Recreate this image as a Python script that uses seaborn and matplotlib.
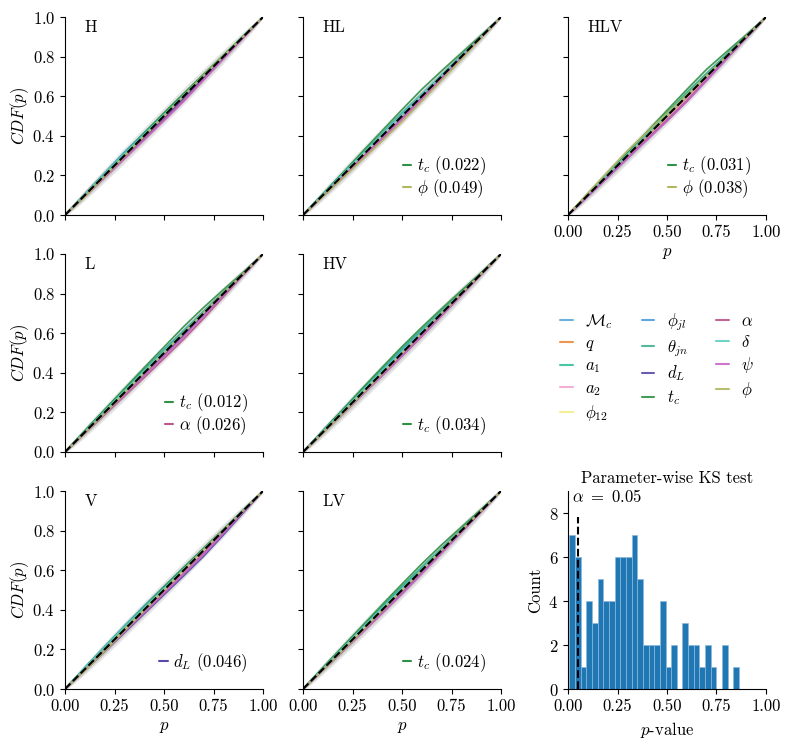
import numpy as np
import pandas as pd
import matplotlib
matplotlib.use("Agg")
import matplotlib.pyplot as plt
from matplotlib.lines import Line2D
import seaborn as sns

sns.set_style("ticks")
plt.rcParams["font.family"] = ["cmr10", "DejaVu Serif"]
plt.rcParams["mathtext.fontset"] = "cm"
plt.rcParams["axes.formatter.use_mathtext"] = True
plt.rcParams["axes.unicode_minus"] = False
plt.rcParams["font.size"] = 12
plt.rcParams["axes.labelsize"] = 12
plt.rcParams["xtick.labelsize"] = 12
plt.rcParams["ytick.labelsize"] = 12
plt.rcParams["legend.fontsize"] = 12
plt.rcParams["axes.edgecolor"] = "black"
plt.rcParams["xtick.color"] = "black"
plt.rcParams["ytick.color"] = "black"
plt.rcParams["axes.labelcolor"] = "black"
plt.rcParams["text.color"] = "black"

# parameters and legend labels
params = ["Mc", "q", "a1", "a2", "phi12", "phi_jl", "theta_jn",
          "d_L", "t_c", "alpha", "delta", "psi", "phi"]
labels = [r"$\mathcal{M}_c$", r"$q$", r"$a_1$", r"$a_2$", r"$\phi_{12}$",
          r"$\phi_{jl}$", r"$\theta_{jn}$", r"$d_L$", r"$t_c$",
          r"$\alpha$", r"$\delta$", r"$\psi$", r"$\phi$"]
colors = ["#5aa9dc", "#f0883a", "#33c29a", "#f2a7cc", "#f5ee86",
          "#4a9fd8", "#3fb38f", "#5a4aa6", "#2f9146", "#b8588a",
          "#62cfc4", "#c967c9", "#b2b65e"]

# p grid where the CDFs were read
p_read = [0.1, 0.2, 0.3, 0.4, 0.5, 0.6, 0.7, 0.8, 0.9]

# CDF(p) - p, in units of 1e-3, one row per parameter (same order as params)
dev_H = [
    [5, 10, 15, 12, 8, 6, 4, 3, 2],
    [8, 12, 10, 6, 4, 2, 0, -2, -1],
    [4, 9, 14, 16, 12, 10, 8, 5, 3],
    [-3, -6, -8, -10, -8, -6, -5, -3, -2],
    [-6, -4, 2, 5, 7, 9, 10, 6, 3],
    [6, 12, 18, 15, 10, 8, 6, 5, 2],
    [3, 8, 12, 14, 10, 12, 9, 6, 3],
    [-4, -8, -10, -12, -14, -10, -8, -6, -3],
    [2, 6, 10, 13, 16, 14, 10, 6, 2],
    [-5, -10, -14, -18, -20, -22, -16, -10, -4],
    [5, 8, 10, 8, 6, 5, 3, 2, 1],
    [-6, -12, -16, -20, -24, -26, -18, -12, -5],
    [-8, -6, -4, -2, 0, 3, 5, 4, 2],
]
dev_HL = [
    [4, 8, 10, 12, 10, 8, 6, 4, 2],
    [2, 4, 6, 4, 2, 0, -2, -2, -1],
    [6, 10, 12, 14, 16, 12, 8, 5, 2],
    [-4, -6, -8, -6, -4, -6, -5, -3, -2],
    [-2, 0, 4, 6, 8, 10, 8, 6, 3],
    [3, 6, 8, 10, 12, 10, 8, 6, 3],
    [5, 8, 12, 10, 8, 6, 4, 3, 2],
    [-6, -10, -12, -14, -12, -10, -8, -4, -2],
    [6, 12, 20, 26, 32, 35, 28, 18, 8],
    [-4, -8, -10, -12, -14, -12, -8, -6, -3],
    [4, 6, 8, 8, 6, 6, 4, 3, 1],
    [-5, -8, -12, -14, -16, -14, -10, -6, -3],
    [-8, -14, -20, -26, -30, -26, -20, -14, -6],
]
dev_HLV = [
    [6, 10, 12, 10, 8, 6, 4, 3, 2],
    [2, 4, 2, 0, -2, -4, -3, -2, -1],
    [4, 8, 10, 12, 14, 16, 12, 8, 3],
    [-3, -6, -10, -14, -18, -16, -12, -6, -2],
    [6, 10, 12, 10, 6, 4, 4, 3, 2],
    [4, 6, 8, 10, 10, 8, 6, 4, 2],
    [3, 6, 10, 12, 16, 20, 16, 10, 4],
    [-5, -10, -14, -18, -24, -26, -20, -12, -5],
    [6, 10, 16, 22, 28, 34, 36, 24, 10],
    [-4, -8, -12, -16, -20, -22, -16, -10, -4],
    [4, 6, 6, 8, 6, 4, 2, 2, 1],
    [-6, -10, -14, -20, -26, -28, -20, -12, -5],
    [10, 18, 24, 20, 14, 8, 4, 2, 1],
]
dev_L = [
    [4, 8, 10, 12, 10, 8, 6, 4, 2],
    [6, 8, 6, 4, 2, 0, -2, -2, -1],
    [6, 12, 16, 14, 12, 10, 8, 5, 3],
    [-2, -4, -6, -8, -10, -8, -6, -4, -2],
    [-4, -2, 0, 4, 6, 8, 6, 4, 2],
    [4, 8, 12, 14, 16, 14, 10, 6, 3],
    [5, 10, 14, 16, 14, 12, 10, 6, 3],
    [-4, -6, -8, -10, -12, -10, -8, -6, -3],
    [8, 14, 20, 26, 30, 34, 30, 20, 8],
    [-6, -12, -18, -24, -28, -30, -26, -16, -6],
    [3, 6, 8, 8, 6, 4, 3, 2, 1],
    [-4, -8, -12, -14, -16, -18, -14, -8, -4],
    [-5, -6, -4, -2, 0, 2, 4, 3, 2],
]
dev_HV = [
    [5, 10, 12, 12, 10, 8, 6, 4, 2],
    [2, 4, 6, 4, 2, 0, -2, -2, -1],
    [6, 10, 14, 16, 18, 14, 10, 6, 3],
    [-4, -6, -8, -10, -8, -6, -5, -3, -2],
    [-4, -2, 0, 2, 4, 6, 8, 6, 3],
    [4, 8, 10, 12, 14, 12, 8, 6, 3],
    [6, 12, 18, 22, 24, 20, 14, 8, 4],
    [-4, -8, -10, -12, -14, -12, -8, -4, -2],
    [8, 14, 22, 28, 32, 30, 24, 16, 6],
    [-4, -6, -10, -12, -14, -16, -12, -8, -3],
    [4, 6, 8, 8, 6, 4, 3, 2, 1],
    [-4, -8, -10, -14, -16, -14, -10, -6, -3],
    [-6, -8, -6, -4, -2, 0, 2, 2, 1],
]
dev_V = [
    [8, 14, 18, 16, 14, 10, 6, 4, 2],
    [4, 6, 4, 2, 0, -2, -4, -3, -1],
    [6, 12, 16, 18, 16, 12, 8, 5, 2],
    [-2, -4, -6, -8, -10, -8, -6, -4, -2],
    [-6, -8, -6, -4, -2, 0, 2, 2, 1],
    [6, 12, 16, 20, 18, 14, 10, 6, 3],
    [8, 14, 18, 16, 12, 10, 8, 5, 2],
    [-6, -12, -16, -20, -24, -28, -30, -22, -10],
    [4, 8, 12, 14, 16, 14, 10, 6, 3],
    [-4, -8, -10, -12, -14, -16, -14, -10, -4],
    [6, 10, 12, 10, 8, 6, 4, 2, 1],
    [-4, -8, -12, -14, -16, -18, -20, -14, -6],
    [-8, -10, -6, -4, -2, 2, 4, 4, 2],
]
dev_LV = [
    [4, 8, 10, 12, 10, 8, 6, 4, 2],
    [6, 10, 8, 6, 4, 2, 0, -1, -1],
    [6, 10, 14, 16, 18, 16, 12, 6, 3],
    [-3, -6, -8, -10, -8, -6, -4, -3, -2],
    [-4, -2, 2, 4, 6, 8, 8, 5, 2],
    [4, 8, 12, 14, 12, 10, 8, 5, 3],
    [5, 10, 12, 14, 16, 14, 10, 6, 3],
    [-5, -10, -12, -14, -16, -14, -10, -6, -3],
    [8, 14, 20, 26, 30, 32, 28, 18, 8],
    [-4, -8, -12, -16, -18, -16, -12, -8, -3],
    [3, 6, 8, 8, 6, 4, 3, 2, 1],
    [-6, -10, -14, -18, -20, -18, -14, -8, -4],
    [-6, -8, -6, -4, -2, 0, 2, 2, 1],
]

panel_names = ["H", "HL", "HLV", "L", "HV", "V", "LV"]
panel_devs = [dev_H, dev_HL, dev_HLV, dev_L, dev_HV, dev_V, dev_LV]
# parameters flagged by the KS test (p < 0.05) in each panel
ks_H = []
ks_HL = [("t_c", 0.022), ("phi", 0.049)]
ks_HLV = [("t_c", 0.031), ("phi", 0.038)]
ks_L = [("t_c", 0.012), ("alpha", 0.026)]
ks_HV = [("t_c", 0.034)]
ks_V = [("d_L", 0.046)]
ks_LV = [("t_c", 0.024)]
panel_ks = [ks_H, ks_HL, ks_HLV, ks_L, ks_HV, ks_V, ks_LV]

n_injections = 1200
ci_levels_z = [0.994, 1.96, 2.97]  # 68%, 95%, 99.7%

# histogram of parameter-wise KS p-values (30 bins)
ks_bin_range = (0.0067, 0.864)
ks_bin_counts = [7, 6, 1, 4, 3, 5, 4, 4, 6, 6, 6, 7, 5, 2, 2,
                 2, 4, 1, 2, 0, 3, 2, 2, 1, 2, 1, 0, 2, 0, 1]
alpha_threshold = 0.05

# ---- layout (pixels) ----
W, H = 793, 745
fig = plt.figure(figsize=(W / 100, H / 100), dpi=100)
col_left = [65, 303, 568]
row_top = [17, 254, 491]
size = 198


def make_ax(r, c):
    return fig.add_axes([col_left[c] / W, 1 - (row_top[r] + size) / H,
                         size / W, size / H])


grid_pos = {"H": (0, 0), "HL": (0, 1), "HLV": (0, 2), "L": (1, 0),
            "HV": (1, 1), "V": (2, 0), "LV": (2, 1)}
color_of = dict(zip(params, colors))
label_of = dict(zip(params, labels))

p_fine = np.linspace(0, 1, 401)
for name, dev, ks in zip(panel_names, panel_devs, panel_ks):
    r, c = grid_pos[name]
    ax = make_ax(r, c)
    # confidence bands
    for z in ci_levels_z:
        half = z * np.sqrt(p_fine * (1 - p_fine) / n_injections)
        ax.fill_between(p_fine, p_fine - half, p_fine + half,
                        color="k", alpha=0.1, lw=0)
    rows = []
    for par, d in zip(params, dev):
        xs = [0.0] + p_read + [1.0]
        ys = [0.0] + [p + v / 1000 for p, v in zip(p_read, d)] + [1.0]
        for x, y in zip(xs, ys):
            rows.append({"p": x, "cdf": y, "param": par})
    df = pd.DataFrame(rows)
    sns.lineplot(data=df, x="p", y="cdf", hue="param", palette=color_of,
                 legend=False, lw=1.2, alpha=0.9, ax=ax, sort=False)
    ax.plot([0, 1], [0, 1], "k--", lw=1.5)
    ax.set_xlim(0, 1)
    ax.set_ylim(0, 1)
    ax.set_xticks([0, 0.25, 0.5, 0.75, 1.0])
    ax.set_yticks([0, 0.2, 0.4, 0.6, 0.8, 1.0])
    ax.text(0.1, 0.95, name, transform=ax.transAxes, va="center", ha="left")
    if c == 0:
        ax.set_ylabel(r"$CDF(p)$", labelpad=1)
    else:
        ax.set_ylabel("")
        ax.set_yticklabels([])
    if r == 2 or name == "HLV":
        ax.set_xlabel(r"$p$")
        ax.set_xticklabels(["0.00", "0.25", "0.50", "0.75", "1.00"])
    else:
        ax.set_xlabel("")
        ax.set_xticklabels([])
    if ks:
        handles = [Line2D([], [], color=color_of[par], lw=1.5) for par, _ in ks]
        texts = [f"{label_of[par]} ({val:.3f})" for par, val in ks]
        ax.legend(handles, texts, loc="lower right", frameon=False,
                  handlelength=0.5, handletextpad=0.35, labelspacing=0.0)
    sns.despine(ax=ax)

# legend panel
lax = make_ax(1, 2)
lax.axis("off")
handles = [Line2D([], [], color=col, lw=1.5, alpha=0.9) for col in colors]
lax.legend(handles, labels, loc="center", ncol=3, frameon=False,
           handlelength=0.75, handletextpad=0.75, columnspacing=1.7,
           labelspacing=0.3, bbox_to_anchor=(0.45, 0.43))

# KS histogram
hax = make_ax(2, 2)
edges = np.linspace(ks_bin_range[0], ks_bin_range[1], len(ks_bin_counts) + 1)
centers = 0.5 * (edges[:-1] + edges[1:])
sns.histplot(x=centers, weights=ks_bin_counts, bins=len(ks_bin_counts),
             binrange=ks_bin_range, color="#1f77b4", alpha=1,
             edgecolor="#8fb8dc", linewidth=0.5, ax=hax)
hax.vlines(alpha_threshold, 0, 7.8, colors="k", linestyles="--", lw=1.5)
hax.text(0.02, 8.75, r"$\alpha\ =\ 0.05$", va="center", ha="left")
hax.set_xlim(0, 1)
hax.set_ylim(0, 9)
hax.set_xticks([0, 0.25, 0.5, 0.75, 1.0])
hax.set_xticklabels(["0.00", "0.25", "0.50", "0.75", "1.00"])
hax.set_yticks([0, 2, 4, 6, 8])
hax.set_xlabel(r"$p$-value")
hax.set_ylabel("Count")
hax.set_title("Parameter-wise KS test", fontsize=12)
sns.despine(ax=hax)

fig.savefig("out.png", dpi=100)
